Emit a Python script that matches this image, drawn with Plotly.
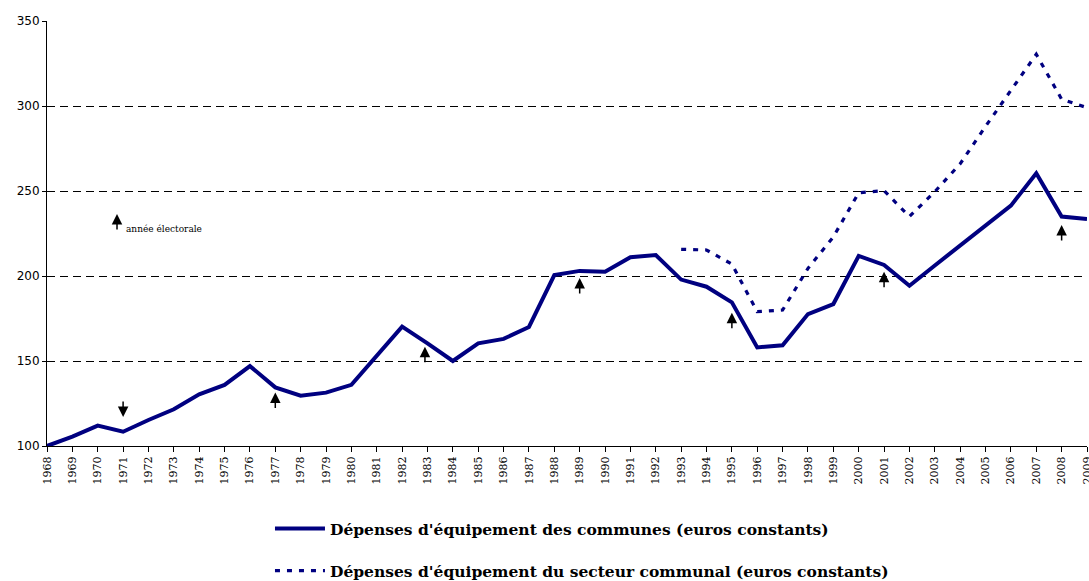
import plotly.graph_objects as go

years = list(range(1968, 2010))
communes = [100, 105.5, 112, 108.4, 115.3, 121.6, 130.4, 135.9, 147, 134.5,
            129.6, 131.4, 136, 153.5, 170.2, 160.4, 150, 160.4, 163, 170,
            200.5, 203, 202.5, 211, 212.3, 197.9, 193.7, 184.5, 158, 159.2,
            177.6, 183.5, 211.8, 206.5, 194.3, 206.2, 218, 229.5, 241.4, 260.4,
            235, 233.5]
sect_years = list(range(1993, 2010))
secteur = [215.7, 215.3, 207, 179, 180, 204.5, 223, 249, 250.2, 235,
           249.6, 266, 288, 309.4, 330.4, 304, 299]

# electoral-year arrows: year, tip value, direction (+1 up, -1 down)
arrow_years = [1971, 1977, 1982.9, 1989, 1995, 2001, 2008]
arrow_tips = [117, 131.4, 158.4, 198.8, 178.4, 202.5, 230]
arrow_dirs = [-1, 1, 1, 1, 1, 1, 1]

key_year, key_tip = 1970.76, 236.5
key_text = "année électorale"

name1 = "Dépenses d'équipement des communes (euros constants)"
name2 = "Dépenses d'équipement du secteur communal (euros constants)"

navy = "#000080"
serif = "DejaVu Serif, Liberation Serif, serif"
sans = "DejaVu Sans, Liberation Sans, sans-serif"

fig = go.Figure()
fig.add_trace(go.Scatter(x=years, y=communes, mode="lines", name=name1,
                         line=dict(color=navy, width=4), legendgroup="a"))
fig.add_trace(go.Scatter(x=sect_years, y=secteur, mode="lines", name=name2,
                         line=dict(color=navy, width=3.2, dash="5px,7px"),
                         legendgroup="b"))

ann = []
for yr, tip, d in zip(arrow_years, arrow_tips, arrow_dirs):
    ann.append(dict(x=yr, y=tip, xref="x", yref="y", text="", showarrow=True,
                    ax=0, ay=17 * d, arrowhead=2, arrowsize=1.4,
                    arrowwidth=1.5, arrowcolor="black"))
ann.append(dict(x=key_year, y=key_tip, xref="x", yref="y", text="",
                showarrow=True, ax=0, ay=17, arrowhead=2, arrowsize=1.4,
                arrowwidth=1.5, arrowcolor="black"))
ann.append(dict(x=key_year, y=key_tip, xref="x", yref="y", text=key_text,
                showarrow=False, xanchor="left", yanchor="middle",
                xshift=7, yshift=-15,
                font=dict(family=serif, size=9, color="black")))

# figure is a bit taller than the window so the bottom legend never
# forces plotly to shrink the plot area; the window crops the extra
fig.update_layout(
    width=1089, height=610,
    margin=dict(l=47, r=2, t=21, b=164),
    plot_bgcolor="white", paper_bgcolor="white",
    annotations=ann,
    xaxis=dict(range=[1968, 2009], tickmode="array", tickvals=years,
               ticktext=[str(y) for y in years], tickangle=-90,
               showgrid=False, showline=True, linecolor="black", linewidth=1,
               ticks="outside", ticklen=5, tickcolor="black",
               tickfont=dict(family=serif, size=11, color="black"),
               ticklabeloverflow="allow",
               zeroline=False, automargin=False),
    yaxis=dict(range=[100, 350], tickvals=[100, 150, 200, 250, 300, 350],
               showgrid=True, gridcolor="black", gridwidth=1,
               griddash="8px,5px",
               showline=True, linecolor="black", linewidth=1,
               ticks="outside", ticklen=4, tickcolor="black",
               tickfont=dict(family=sans, size=12, color="black"),
               zeroline=False, automargin=False),
    legend=dict(x=0.2144, y=-0.2447, xanchor="left", yanchor="middle",
                orientation="v", tracegroupgap=19, itemwidth=50,
                font=dict(family=serif, size=15.5, color="black",
                          weight="bold"),
                bgcolor="rgba(0,0,0,0)"),
)

fig.write_html("out.html", config={"displayModeBar": False},
               post_script="document.body.style.margin='0px';"
                           "document.body.style.overflow='hidden';")
